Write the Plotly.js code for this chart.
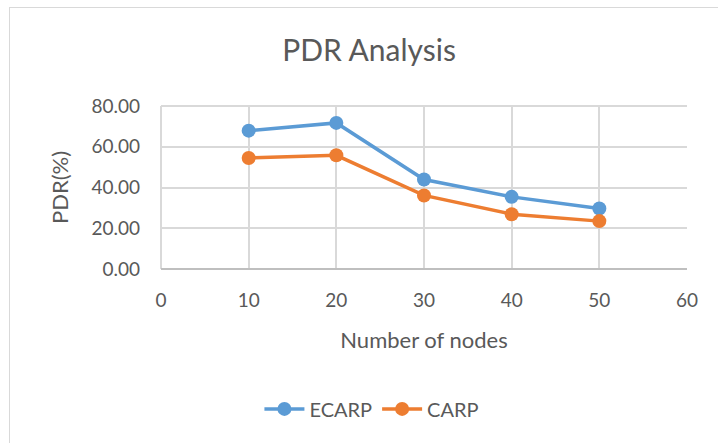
<!DOCTYPE html>
<html>
<head>
<meta charset="utf-8">
<script src="https://cdn.plot.ly/plotly-3.0.1.min.js"></script>
<style>
  html, body { margin: 0; padding: 0; background: #fff; overflow: hidden; }
  #frame { position: absolute; left: 9px; top: 7px; width: 760px; height: 480px; border: 1px solid #d9d9d9; box-sizing: border-box; }
  #chart { position: absolute; left: 0; top: 0; width: 718px; height: 443px; }
</style>
</head>
<body>
<div id="frame"></div>
<div id="chart"></div>
<script>
const nodes = [10, 20, 30, 40, 50];
const ecarp = [67.9, 71.7, 43.9, 35.4, 29.7];
const carp = [54.5, 55.8, 36.1, 26.9, 23.5];
const seriesNames = ["ECARP", "CARP"];
const seriesColors = ["#5B9BD5", "#ED7D31"];

const font = "Lato, 'Open Sans', sans-serif";
const textColor = "#595959";

const traces = [ecarp, carp].map((vals, i) => ({
  x: nodes,
  y: vals,
  name: seriesNames[i],
  type: "scatter",
  mode: "lines+markers",
  line: { color: seriesColors[i], width: 3.5 },
  marker: { color: seriesColors[i], size: 14 }
}));

const layout = {
  width: 718,
  height: 443,
  paper_bgcolor: "rgba(0,0,0,0)",
  plot_bgcolor: "rgba(0,0,0,0)",
  margin: { l: 161, r: 31, t: 106, b: 174 },
  font: { family: font, color: textColor, size: 19 },
  title: {
    text: "PDR Analysis",
    font: { family: font, size: 30, color: textColor },
    x: 0.514, xanchor: "center",
    y: 0.885, yanchor: "middle"
  },
  xaxis: {
    range: [0, 60],
    dtick: 10,
    tick0: 0,
    showgrid: true,
    gridcolor: "#d9d9d9",
    gridwidth: 2,
    zeroline: false,
    showline: false,
    ticks: "",
    ticklabelstandoff: 18,
    tickfont: { size: 19, color: textColor },
    title: { text: "Number of nodes", font: { size: 22, color: textColor }, standoff: 22 }
  },
  yaxis: {
    range: [0, 80],
    dtick: 20,
    tickformat: ".2f",
    showgrid: true,
    gridcolor: "#d9d9d9",
    gridwidth: 2,
    zeroline: false,
    showline: false,
    ticks: "",
    ticklabelstandoff: 20,
    tickfont: { size: 19, color: textColor },
    title: { text: "PDR(%)", font: { size: 22, color: textColor }, standoff: 16 }
  },
  shapes: [
    { type: "line", xref: "paper", yref: "paper", x0: 0, x1: 0, y0: 0, y1: 1, line: { color: "#d9d9d9", width: 2 } },
    { type: "line", xref: "paper", yref: "paper", x0: 0, x1: 1, y0: 1, y1: 1, line: { color: "#d9d9d9", width: 2 } },
    { type: "line", xref: "paper", yref: "paper", x0: 0, x1: 1, y0: 0, y1: 0, line: { color: "#bfbfbf", width: 2 } }
  ],
  showlegend: true,
  legend: {
    orientation: "h",
    xref: "container", yref: "container",
    x: 0.518, xanchor: "center",
    y: 0.077, yanchor: "middle",
    font: { size: 20, color: textColor },
    itemwidth: 40
  }
};

Plotly.newPlot("chart", traces, layout, { displayModeBar: false, staticPlot: true });
</script>
</body>
</html>
